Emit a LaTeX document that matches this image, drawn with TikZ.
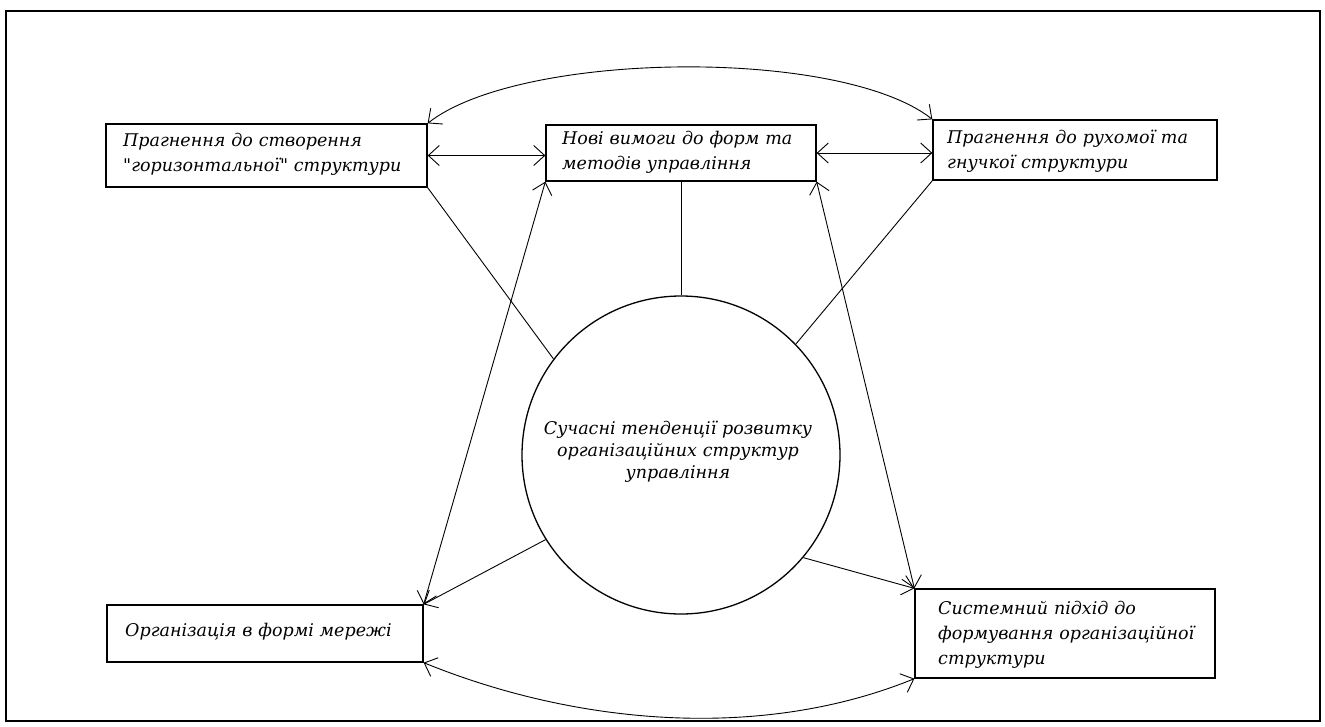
\documentclass[tikz,border=0pt]{standalone}
\usepackage{fontspec}
\setmainfont{DejaVu Serif}[Ligatures=TeXOff]
\usetikzlibrary{arrows.meta,calc}
\begin{document}
\begin{tikzpicture}[x=1pt,y=-1pt,
  box/.style={draw, line width=1.3pt, rectangle, inner sep=0pt},
  lbl/.style={inner sep=0pt, font=\itshape\fontsize{17.5}{25}\selectfont, align=left, anchor=base west, text width=400pt},
  conn/.style={line width=0.9pt},
  barb/.tip={Straight Barb[length=11pt,width=20pt]},
  dbl/.style={conn, barb-barb},
  one/.style={conn, -barb},
]
\useasboundingbox (0,0) rectangle (1325,726);
\node[draw, line width=2pt, minimum width=1314pt, minimum height=710pt, inner sep=0pt] (frame) at (663,366) {};

\node[box, minimum width=321pt, minimum height=63pt] (A) at (266.5,155.5) {};
\node[box, minimum width=270pt, minimum height=56pt] (B) at (681,153) {};
\node[box, minimum width=284pt, minimum height=60pt] (C) at (1075,150) {};
\node[box, minimum width=316pt, minimum height=57pt] (D) at (265,633.5) {};
\node[box, minimum width=300pt, minimum height=89pt] (E) at (1065,633.5) {};
\node[draw, circle, line width=1.3pt, minimum size=318pt, inner sep=0pt] (O) at (681,455) {};

\node[lbl] (At) at (123,146) {Прагнення до створення\\"горизонтальної" структури};
\node[lbl] (Bt) at (562,144) {Нові вимоги до форм та\\методів управління};
\node[lbl] (Ct) at (947,143) {Прагнення до рухомої та\\гнучкої структури};
\node[lbl] (Dt) at (125,636) {Організація в формі мережі};
\node[lbl] (Et) at (938,614) {Системний підхід до\\формування організаційної\\структури};
\node[lbl, font=\itshape\fontsize{17.5}{22}\selectfont, align=center, anchor=base, text width=320pt] (Ot) at (678,434) {Сучасні тенденції розвитку\\організаційних структур\hspace*{1.6em}\\управління};

\draw[dbl] (A.east) -- (A.east -| B.west);
\draw[dbl] (B.east) -- (B.east -| C.west);
\draw[dbl] (A.north east) .. controls (520,51) and (840,47) .. (C.north west);
\draw[dbl] (D.south east) .. controls (577,725) and (761,741) .. (E.south west);
\draw[conn] (B.south) -- (O.north);
\draw[conn] (A.south east) -- (O.143.3);
\draw[conn] (C.south west) -- (O.44.7);
\draw[dbl] (B.south west) -- (D.north east);
\draw[dbl] (B.south east) -- (E.north west);
\draw[one] (O.212.3) -- (D.north east);
\draw[one] (O.320.5) -- (E.north west);
\end{tikzpicture}
\end{document}
